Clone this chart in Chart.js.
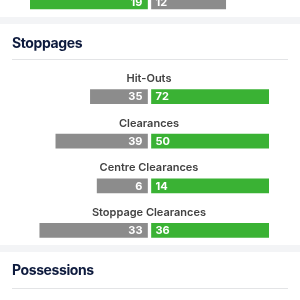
<!DOCTYPE html>
<html>
<head>
<meta charset="utf-8">
<script src="https://cdn.jsdelivr.net/npm/chart.js@4"></script>
<style>
  html, body { margin: 0; padding: 0; }
  body { width: 300px; height: 300px; overflow: hidden; position: relative; background: #fff; font-family: Inter, "Noto Sans", sans-serif; }
  .band { position: absolute; left: 0; width: 300px; height: 7px; background: #f3f4f6; }
  .title { position: absolute; left: 12px; font-size: 14px; line-height: 15px; font-weight: 700; letter-spacing: -0.4px; color: #0d1a3d; }
  .rule { position: absolute; left: 12px; width: 276px; height: 1px; background: #e3e4e6; }
  canvas { position: absolute; left: 0; }
</style>
</head>
<body>
<canvas id="topChart"></canvas>
<div class="band" style="top:17px"></div>
<div class="title" style="top:35px">Stoppages</div>
<div class="rule" style="top:59px"></div>
<canvas id="stopChart"></canvas>
<div class="band" style="top:245px"></div>
<div class="title" style="top:262px">Possessions</div>
<div class="rule" style="top:288px"></div>
<script>
// tail end of the previous section (only the bottom of its last bar shows)
const topLabels = [''];
const topHome = [19];
const topAway = [12];

const stoppageLabels = ['Hit-Outs', 'Clearances', 'Centre Clearances', 'Stoppage Clearances'];
const stoppageHome = [35, 39, 6, 33];
const stoppageAway = [72, 50, 14, 36];

const GREEN = '#3ab234';
const GREY = '#8c8c8c';
const GAP = 0.017; // half gap between the two bars, in row units

// each row is scaled to its own larger value
function rowMax(home, away, i){
  return Math.max(home[i], away[i]);
}

const barText = {
  id: 'barText',
  afterDatasetsDraw(chart, args, opts){
    const ctx = chart.ctx;
    ctx.save();
    [opts.home, opts.away].forEach((vals, d) => {
      const meta = chart.getDatasetMeta(d);
      meta.data.forEach((bar, i) => {
        const left = Math.min(bar.x, bar.base);
        const right = Math.max(bar.x, bar.base);
        ctx.font = 'bold 11px Inter';
        ctx.fillStyle = '#fff';
        ctx.textBaseline = 'middle';
        if(d == 0){
          ctx.textAlign = 'right';
          ctx.fillText(String(vals[i]), right - 5, bar.y + 0.5);
        }else{
          ctx.textAlign = 'left';
          ctx.fillText(String(vals[i]), left + 4, bar.y + 0.5);
        }
      });
    });
    if(opts.showLabels){
      const meta = chart.getDatasetMeta(0);
      ctx.font = '600 11px Inter';
      ctx.fillStyle = '#424242';
      ctx.textAlign = 'center';
      ctx.textBaseline = 'alphabetic';
      meta.data.forEach((bar, i) => {
        ctx.fillText(chart.data.labels[i], 149, bar.y - 14.6);
      });
    }
    ctx.restore();
  }
};

function makeChart(id, top, height, padTop, padBottom, labels, home, away, showLabels){
  const canvas = document.getElementById(id);
  canvas.style.top = top + 'px';
  canvas.style.width = '300px';
  canvas.style.height = height + 'px';
  canvas.width = 300;
  canvas.height = height;
  return new Chart(canvas, {
    type: 'bar',
    data: {
      labels: labels,
      datasets: [
        {
          data: home.map((v, i) => [-GAP - v / rowMax(home, away, i), -GAP]),
          backgroundColor: home.map((v, i) => v > away[i] ? GREEN : GREY),
          barThickness: 14,
          grouped: false
        },
        {
          data: away.map((v, i) => [GAP, GAP + v / rowMax(home, away, i)]),
          backgroundColor: away.map((v, i) => v > home[i] ? GREEN : GREY),
          barThickness: 14,
          grouped: false
        }
      ]
    },
    options: {
      indexAxis: 'y',
      responsive: false,
      animation: false,
      events: [],
      layout: { padding: { left: 30, right: 31, top: padTop, bottom: padBottom } },
      scales: {
        x: { display: false, min: -1 - GAP, max: 1 + GAP },
        y: { display: false }
      },
      plugins: {
        legend: { display: false },
        tooltip: { enabled: false },
        barText: { showLabels: showLabels, home: home, away: away }
      }
    },
    plugins: [barText]
  });
}

makeChart('topChart', -10, 24, 0, 0, topLabels, topHome, topAway, false);
makeChart('stopChart', 0, 300, 74.3, 47.3, stoppageLabels, stoppageHome, stoppageAway, true);
</script>
</body>
</html>
